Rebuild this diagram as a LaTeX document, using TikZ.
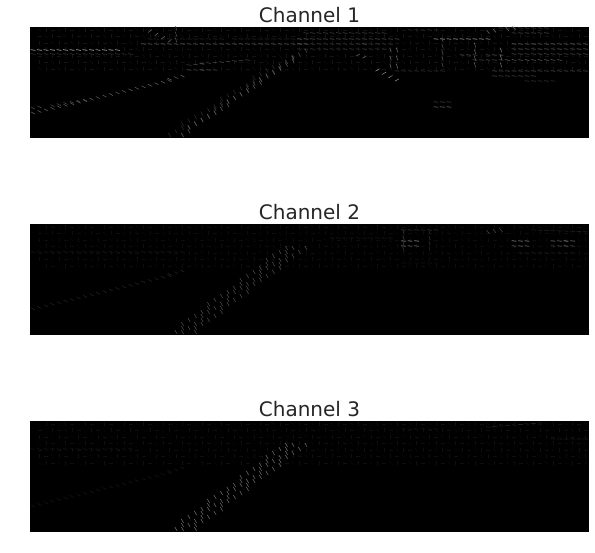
\documentclass[tikz,border=0pt]{standalone}
\usepackage{fontspec}
\setmainfont{DejaVu Sans}
\definecolor{titlecol}{HTML}{262626}
\tikzset{
  panelbox/.style={fill=black,draw=none,minimum width=559pt,minimum height=111pt,inner sep=0pt,outer sep=0pt,anchor=north west},
  paneltitle/.style={text=titlecol,font=\fontsize{20}{24}\selectfont,inner sep=0pt,anchor=base},
  stroke/.style={line width=0.45pt,line cap=butt}
}
% #1,#2 start; #3,#4 end (panel pixels); #5 stroke angle; #6 grey percentage
\newcommand\hogline[6]{%
  \pgfmathsetmacro\hogdist{veclen((#3)-(#1),(#4)-(#2))}%
  \pgfmathtruncatemacro\hogn{max(1,round(\hogdist/6.5))}%
  \foreach \hogi in {0,...,\hogn}{%
    \pgfmathsetmacro\hogx{6.5*round(((#1)+((#3)-(#1))*\hogi/\hogn)/6.5)+3}%
    \pgfmathsetmacro\hogy{(#2)+((#4)-(#2))*\hogi/\hogn}%
    \draw[stroke,white!#6!black] (\hogx,\hogy) ++(#5:-2.3pt and 2.3pt) -- ++(#5:4.6pt and -4.6pt);%
  }}
% faint texture grid: columns over the width, rows #1..#2, grey #3
\newcommand\hogfield[3]{%
  \foreach \hogr in {#1,...,#2}{%
    \foreach \hogc in {1,...,85}{%
      \pgfmathsetmacro\hoga{mod(\hogc*37+\hogr*53,3)*45}%
      \draw[line width=0.35pt,white!#3!black] ({6.5*\hogc+3},{6.5*\hogr+3}) ++(\hoga:-2pt and 2pt) -- ++(\hoga:4pt and -4pt);%
    }}}
% wide diagonal band
\newcommand\hogband[5]{%
  \hogline{#1}{#2}{#3}{#4}{60}{#5}
  \hogline{#1+9}{#2}{#3+9}{#4}{60}{#5}
  \hogline{#1+18}{#2}{#3+18}{#4}{60}{#5}
}
\begin{document}
\begin{tikzpicture}[x=1pt,y=-1pt]
\useasboundingbox (0,0) rectangle (595,553);
\fill[white] (0,0) rectangle (595,553);
\node[paneltitle] (title1) at (309.5,23) {Channel 1};
\node[paneltitle] (title2) at (309.5,220) {Channel 2};
\node[paneltitle] (title3) at (309.5,417) {Channel 3};
\node[panelbox] (panel1) at (30,27) {};
\node[panelbox] (panel2) at (30,224) {};
\node[panelbox] (panel3) at (30,421) {};

\begin{scope}[shift={(30pt,-27pt)}]
\clip (0,0) rectangle (559,111);
\hogfield{0}{6}{8}
\hogline{3}{23}{87}{23}{8}{85}
\hogline{3}{27}{100}{27}{8}{28}
\hogline{110}{17}{270}{17}{5}{50}
\hogline{120}{12}{270}{12}{5}{22}
\hogline{3}{86}{152}{49}{28}{42}
\hogline{3}{81}{50}{73}{28}{34}
\hogline{153}{43}{185}{43}{5}{38}
\hogline{153}{38}{217}{33}{8}{32}
\hogline{120}{4}{135}{14}{-40}{45}
\hogline{140}{1}{140}{13}{75}{35}
\hogline{148}{108}{263}{30}{60}{42}
\hogline{157}{100}{272}{24}{60}{35}
\hogline{136}{108}{240}{40}{60}{20}
% right side
\hogline{265}{12}{365}{12}{5}{45}
\hogline{405}{12}{458}{12}{5}{85}
\hogline{272}{6}{348}{6}{8}{34}
\hogline{478}{6}{511}{6}{5}{40}
\hogline{265}{17}{360}{17}{5}{36}
\hogline{478}{17}{558}{17}{5}{55}
\hogline{265}{22}{348}{22}{5}{28}
\hogline{480}{22}{553}{22}{5}{42}
\hogline{480}{27}{553}{27}{8}{38}
\hogline{475}{33}{525}{33}{12}{45}
\hogline{365}{44}{411}{44}{5}{28}
\hogline{462}{44}{555}{44}{5}{40}
\hogline{347}{43}{365}{53}{-30}{65}
\hogline{322}{28}{330}{30}{-30}{45}
\hogline{355}{23}{355}{39}{72}{55}
\hogline{365}{23}{365}{39}{72}{50}
\hogline{412}{13}{412}{38}{72}{42}
\hogline{445}{18}{445}{38}{72}{45}
\hogline{465}{23}{470}{38}{72}{55}
\hogline{432}{28}{465}{28}{5}{45}
\hogline{440}{33}{465}{33}{5}{40}
\hogline{462}{49}{498}{49}{5}{38}
\hogline{495}{54}{518}{54}{5}{28}
\hogline{403}{80}{418}{80}{5}{55}
\hogline{403}{75}{413}{75}{5}{35}
\hogline{458}{5}{478}{1}{50}{45}
\hogline{465}{1}{511}{1}{5}{36}
\hogline{375}{3}{400}{3}{5}{26}
\end{scope}

\begin{scope}[shift={(30pt,-224pt)}]
\clip (0,0) rectangle (559,111);
\hogfield{0}{6}{5}
\hogline{3}{28}{150}{28}{8}{13}
\hogline{3}{85}{152}{47}{28}{16}
\hogband{142}{108}{252}{24}{34}
\hogline{370}{6}{405}{6}{5}{28}
\hogline{368}{8}{368}{25}{72}{28}
\hogline{396}{8}{396}{25}{72}{22}
\hogline{372}{17}{382}{17}{5}{75}
\hogline{372}{22}{382}{22}{5}{60}
\hogline{478}{17}{492}{17}{5}{70}
\hogline{478}{22}{492}{22}{5}{55}
\hogline{518}{17}{542}{17}{5}{55}
\hogline{518}{22}{542}{22}{5}{42}
\hogline{455}{8}{470}{6}{50}{32}
\hogline{500}{6}{558}{8}{5}{16}
\hogline{300}{14}{360}{14}{5}{14}
\hogline{490}{29}{540}{29}{5}{16}
\hogline{370}{39}{400}{39}{5}{10}
\end{scope}

\begin{scope}[shift={(30pt,-421pt)}]
\clip (0,0) rectangle (559,111);
\hogfield{0}{6}{6}
\hogline{3}{28}{100}{28}{8}{11}
\hogline{3}{85}{152}{47}{28}{10}
\hogband{142}{108}{252}{24}{48}
\hogline{370}{8}{400}{8}{5}{12}
\hogline{455}{6}{510}{2}{5}{18}
\hogline{520}{18}{558}{18}{5}{16}
\end{scope}
\end{tikzpicture}
\end{document}
